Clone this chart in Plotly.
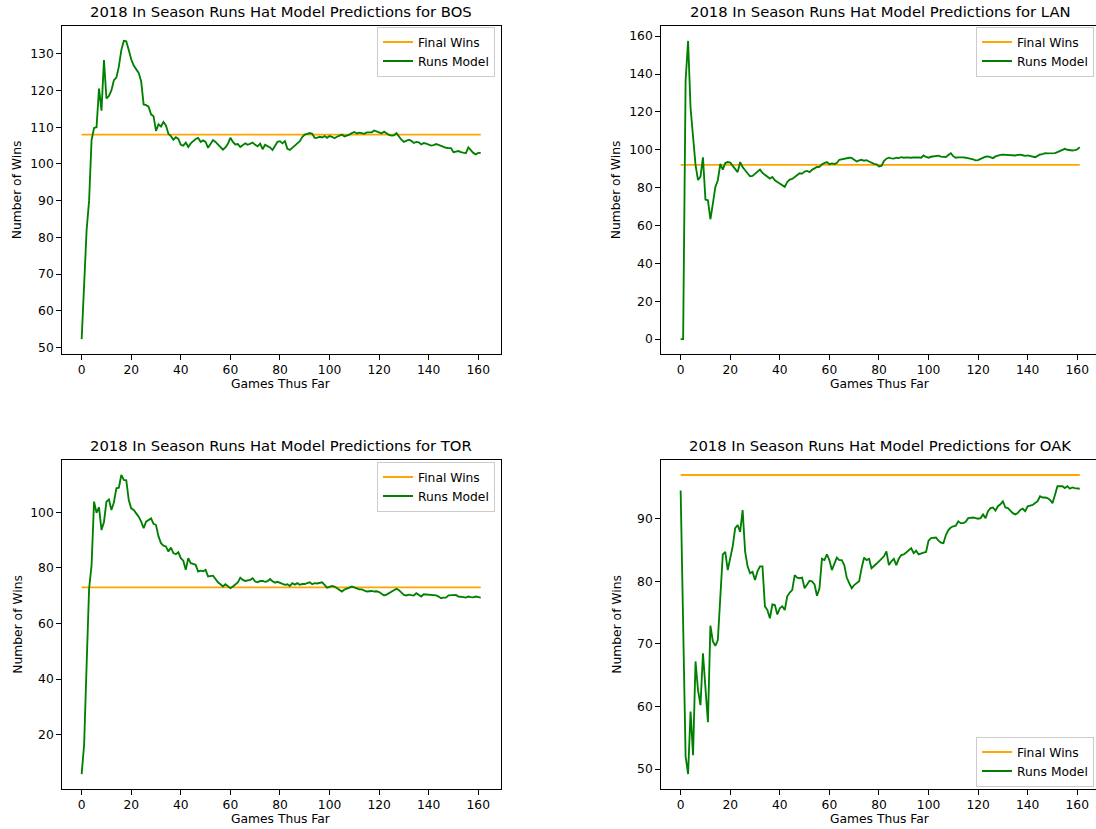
import plotly.graph_objects as go

W, H = 1096, 829
games = list(range(162))

teams = ["BOS", "LAN", "TOR", "OAK"]
final_wins = {"BOS": 108, "LAN": 92, "TOR": 73, "OAK": 97}

bos = [52.3, 68, 82, 90, 106.5, 109.8, 110, 120.5, 114.5, 128.3, 117.8, 118.5, 120, 122.8, 123.5, 126.5,
       131, 133.5, 133.4, 131, 128.5, 126.8, 125.8, 124.8, 122.5, 116.2, 116, 115.6, 113.5, 113, 109,
       110.8, 110.2, 111.4, 110.5, 108.2, 107.6, 106.6, 107.3, 106.8, 105.2, 105, 105.8, 104.6, 105.6,
       106.3, 106.8, 107.1, 106, 106.4, 106, 104.4, 105.5, 106.5, 106, 105.2, 104.5, 103.9, 104.5, 105.5,
       107.1, 106, 105.3, 105.4, 104.6, 105.2, 105.6, 105.2, 105.5, 105.8, 105.2, 104.8, 105.5, 104,
       105.2, 104.9, 104.5, 103.8, 104.8, 106, 106.2, 105.6, 106.2, 104.1, 103.8, 104.3, 105, 105.6,
       106.2, 107.3, 108, 108.2, 108.4, 108.2, 107.1, 107.1, 107.4, 107.2, 107.6, 107.1, 107.6, 107.4,
       107, 107.4, 107.8, 108, 107.5, 107.7, 108, 108.4, 108.7, 108.3, 108.5, 108.4, 108.2, 108.6, 108.7,
       108.6, 109.1, 108.8, 108.6, 108.3, 108.8, 108.3, 107.9, 107.7, 107.8, 108.4, 107.4, 106.6, 106,
       106.2, 106.6, 106.3, 105.7, 106, 105.9, 105.3, 105.7, 105.5, 105.2, 105, 105.1, 105.4, 105.2,
       104.9, 104.6, 104.4, 104.3, 104.3, 103.2, 103.4, 103.5, 103.2, 103, 102.9, 104.5, 103.7, 103,
       102.6, 103, 103]

lan = [0, 0, 136.5, 157.5, 122, 104.8, 92, 84, 85.8, 96, 73.7, 73.3, 63.3, 71.6, 80.4, 83.9, 92.6, 89.5,
       93, 93.5, 93.2, 91.5, 89.5, 88.2, 93.5, 90.8, 89.2, 87.5, 86, 86.2, 87.3, 88.5, 89.5, 87.8, 86.8,
       85.5, 84.8, 85.6, 83.9, 83, 82, 81.2, 80.4, 83, 84.2, 84.6, 85.6, 86.2, 87.6, 87.4, 88.5, 88.8,
       88.2, 89.4, 90.2, 90.9, 91, 92.3, 93, 93.5, 92.4, 92.8, 92.5, 93, 94.7, 95, 95.3, 95.6, 95.8,
       95.7, 94.8, 93.8, 94.4, 94.7, 94.2, 94.5, 93.8, 93, 92.6, 92.3, 91.2, 91.5, 94, 95.3, 95.8, 95.5,
       95.3, 95.8, 95.6, 96.1, 95.8, 96, 95.7, 95.8, 96, 96.1, 95.9, 95.8, 97, 96.2, 95.8, 96.3, 96.6,
       96.8, 96.9, 96.4, 96.1, 96.2, 97.2, 98.2, 96.5, 95.8, 96, 96.1, 96, 95.8, 95.6, 95.3, 94.9, 94.4,
       94.5, 95.2, 95.8, 96.3, 96.5, 96, 95.6, 96.5, 97, 97.3, 97.4, 97.3, 97.5, 97.1, 97.2, 97, 97.3,
       97.4, 97.1, 96.8, 97, 96.8, 96.5, 96.1, 96.8, 97.5, 97.7, 98.2, 98.1, 98.2, 98.3, 98.2, 98.8,
       99.4, 100.2, 100.5, 100, 99.7, 99.6, 99.8, 100.2, 101.4]

tor = [5.9, 16.5, 45, 72.5, 81, 103.8, 99.8, 101.8, 93.6, 96.5, 103.8, 104.6, 100.8, 103.5, 108.6, 108.8,
       113.4, 111.6, 111.5, 104.4, 101.4, 100.8, 99.6, 98.4, 96.6, 94.3, 96.6, 97.1, 97.8, 95.8, 95.4,
       91.3, 88.9, 88, 87.7, 85.9, 87.3, 85.3, 84.9, 85.6, 83.5, 82.6, 79.3, 83.5, 81.7, 81.4, 81.1,
       78.7, 79, 78.8, 79.3, 76.9, 77, 77.2, 76, 74.8, 74.1, 73.3, 74.1, 73.3, 72.7, 73.3, 74.1, 74.8,
       76.5, 75.7, 75.3, 75.5, 75.7, 76.3, 75.1, 74.8, 75.3, 75.3, 75, 75.2, 76, 75.2, 74.7, 75, 74.7,
       74.2, 73.9, 74.1, 73.5, 74.5, 74, 74.5, 73.9, 74.2, 74.2, 74.5, 74.8, 74.1, 74.5, 74.4, 74.5,
       74.8, 73.9, 72.9, 73.2, 73.5, 73.3, 72.8, 72.1, 71.5, 72.2, 72.6, 72.9, 73.3, 73, 72.7, 72.3,
       72.3, 72, 71.5, 71.6, 71.7, 71.5, 71.6, 71.3, 70.8, 70.1, 70.4, 70.9, 71.6, 72.1, 72.5, 72, 71.3,
       70.3, 70.1, 70.4, 70.2, 70.1, 70.9, 70.3, 69.7, 70.5, 70.4, 70.3, 70.3, 70.2, 70.1, 69.7, 69.1,
       69.3, 69.3, 70.1, 70.2, 70.3, 70.3, 69.7, 69.7, 69.5, 69.3, 69.7, 69.5, 69.4, 69.7, 69.6, 69.3]

oak = [94.5, 73.2, 52, 49.2, 59.2, 52.2, 67.2, 62.6, 60.2, 68.5, 63.2, 57.5, 72.9, 70.4, 69.7, 70.6, 77.5,
       84.3, 84.7, 81.8, 83.7, 85.6, 88.5, 89, 87.9, 91.4, 84.8, 82.4, 81.3, 81.5, 80.2, 81.6, 82.4, 82.4,
       76, 75.4, 74.1, 76.3, 76.2, 74.7, 75.7, 76, 75.4, 77.6, 78.2, 78.6, 81, 80.6, 80.5, 80.6, 78.9,
       79.6, 80.1, 80, 79.5, 77.7, 78.9, 83.6, 83.4, 84.3, 83.4, 81.8, 82.9, 83.8, 83.4, 83.4, 82.6,
       80.6, 79.7, 78.9, 79.4, 79.7, 80, 82.1, 83.8, 83.4, 83.6, 82.1, 82.4, 82.8, 83.2, 83.6, 84, 84.8,
       82.6, 83.2, 83.6, 82.6, 83.6, 84.2, 84.3, 84.6, 85, 85.3, 84.5, 84.9, 84.3, 84.5, 84.6, 84.7,
       86.5, 86.9, 87, 87, 86.5, 86.2, 86.1, 87.4, 88.2, 88.6, 88.8, 88.9, 89.6, 89.3, 89.3, 89.5, 90.1,
       90.2, 90.2, 90.1, 90, 90.1, 90.7, 90.1, 91.2, 91.7, 91.8, 91.3, 92, 92.3, 92.8, 91.8, 91.7, 91.3,
       90.9, 90.7, 90.9, 91.4, 91.6, 91.2, 92, 92.1, 92.2, 92.5, 92.8, 93.6, 93.4, 93.4, 93.3, 93, 92.5,
       93.8, 95.2, 95.2, 95.2, 94.9, 95.2, 94.8, 95, 94.9, 94.8, 94.8]

series = {"BOS": bos, "LAN": lan, "TOR": tor, "OAK": oak}
y_dticks = {"BOS": 10, "LAN": 20, "TOR": 20, "OAK": 10}

# pixel geometry of the four axes boxes (left, right, top, bottom)
boxes = {
    "BOS": (61.7, 500.7, 26, 354),
    "LAN": (660.7, 1096, 26, 354),
    "TOR": (61.7, 500.7, 460, 789),
    "OAK": (660.7, 1096, 460, 789),
}
full_width = 439.0
legend_pos = {
    "BOS": (495, 26.5, "right", "top"),
    "LAN": (1094, 26.5, "right", "top"),
    "TOR": (495, 461.5, "right", "top"),
    "OAK": (1094, 786.5, "right", "bottom"),
}

FONT = "DejaVu Sans"
FS = 12.3
fig = go.Figure()
layout = dict(width=W, height=H, margin=dict(l=0, r=0, t=0, b=0, pad=0, autoexpand=False),
              paper_bgcolor="white", plot_bgcolor="white", showlegend=True,
              font=dict(family=FONT, size=FS, color="black"))
annotations = []

xspan = 161 * 1.1
for i, team in enumerate(teams):
    k = i + 1
    xa = "x" if k == 1 else f"x{k}"
    ya = "y" if k == 1 else f"y{k}"
    lg = "legend" if k == 1 else f"legend{k}"
    vals = series[team]
    fw = final_wins[team]
    fig.add_trace(go.Scatter(x=games, y=[fw] * len(games), mode="lines", name="Final Wins",
                             line=dict(color="orange", width=1.85), xaxis=xa, yaxis=ya, legend=lg))
    fig.add_trace(go.Scatter(x=games, y=vals, mode="lines", name="Runs Model",
                             line=dict(color="green", width=1.85), xaxis=xa, yaxis=ya, legend=lg))
    l, r, t, b = boxes[team]
    x0 = -0.05 * 161
    x1 = x0 + xspan * (r - l) / full_width
    lo = min(min(vals), fw)
    hi = max(max(vals), fw)
    pad = 0.05 * (hi - lo)
    right_col = team in ("LAN", "OAK")
    xkey = "xaxis" if k == 1 else f"xaxis{k}"
    ykey = "yaxis" if k == 1 else f"yaxis{k}"
    layout[xkey] = dict(domain=[l / W, r / W], range=[x0, x1], anchor=ya, automargin=False,
                        tickmode="array", tickvals=list(range(0, 161, 20)),
                        ticks="outside", ticklen=4.5, tickwidth=1, tickcolor="black",
                        showline=True, linecolor="black", linewidth=1, mirror=True,
                        showgrid=False, zeroline=False, tickfont=dict(size=FS))
    layout[ykey] = dict(domain=[1 - b / H, 1 - t / H], range=[lo - pad, hi + pad], anchor=xa,
                        automargin=False, dtick=y_dticks[team], tick0=0,
                        ticks="outside", ticklen=4.5, tickwidth=1, tickcolor="black",
                        showline=True, linecolor="black", linewidth=1,
                        mirror=(not right_col),
                        showgrid=False, zeroline=False, tickfont=dict(size=FS))
    lx, ly, xan, yan = legend_pos[team]
    layout[lg] = dict(x=lx / W, y=1 - ly / H, xanchor=xan, yanchor=yan,
                      bgcolor="rgba(255,255,255,0.8)", bordercolor="#cccccc", borderwidth=1,
                      font=dict(size=FS, family=FONT), tracegroupgap=0, itemwidth=30)
    # title centred over the full (uncropped) axes box
    cx = (l + l + full_width) / 2
    annotations.append(dict(text=f"2018 In Season Runs Hat Model Predictions for {team}",
                            x=cx / W, y=1 - t / H, xref="paper", yref="paper",
                            xanchor="center", yanchor="bottom", yshift=4, showarrow=False,
                            font=dict(size=14.8, family=FONT, color="black")))
    annotations.append(dict(text="Games Thus Far", x=cx / W, y=1 - (b + 30) / H,
                            xref="paper", yref="paper", xanchor="center", yanchor="middle",
                            showarrow=False, font=dict(size=FS, family=FONT, color="black")))
    annotations.append(dict(text="Number of Wins", x=(l - 44.5) / W, y=1 - ((t + b) / 2) / H,
                            xref="paper", yref="paper", xanchor="center", yanchor="middle",
                            textangle=-90, showarrow=False,
                            font=dict(size=FS, family=FONT, color="black")))

layout["annotations"] = annotations
fig.update_layout(**layout)
fig.write_html("out.html", config={"displayModeBar": False},
               post_script="document.body.style.margin='0';document.body.style.padding='0';")
